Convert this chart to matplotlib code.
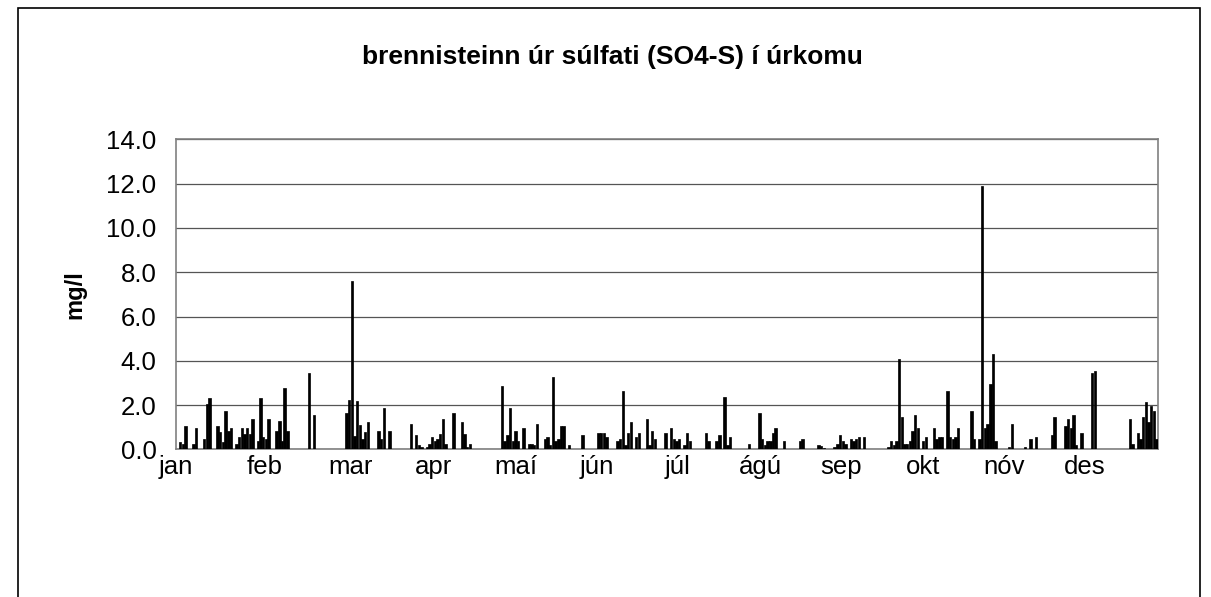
import matplotlib
matplotlib.use("Agg")
import matplotlib.pyplot as plt
from matplotlib.patches import Rectangle

plt.rcParams['font.family'] = ['Liberation Sans', 'DejaVu Sans']

# sample days (day of year, 0 = 1 Jan) and sulphate-sulphur in precipitation (mg/l)
days = [0, 1, 2, 5, 6, 9, 10, 11, 14, 15, 16, 17, 18, 19, 21, 22, 23, 24, 25, 26, 27,
        29, 30, 31, 32, 33, 36, 37, 38, 39, 40, 48, 50,
        62, 63, 64, 65, 66, 67, 68, 69, 70, 74, 75, 76, 78, 86, 88, 89, 90,
        92, 93, 94, 95, 96, 97, 98, 99, 102, 105, 106, 107, 108,
        120, 121, 122, 123, 124, 125, 126, 128, 130, 131, 132, 133, 136, 137, 138, 139,
        140, 141, 142, 143, 145, 150,
        156, 157, 158, 159, 163, 164, 165, 166, 167, 168, 170, 171, 174, 175, 176, 177,
        181, 183, 184, 185, 186, 188, 189, 190, 196, 197, 200, 201, 203, 204, 205,
        212, 216, 217, 218, 219, 220, 221, 222, 225, 231, 232, 238, 239, 240,
        244, 245, 246, 247, 248, 250, 251, 252, 253, 255,
        264, 265, 266, 267, 268, 269, 270, 271, 272, 273, 274, 275, 277, 278,
        281, 282, 283, 284, 286, 287, 288, 289, 290, 295, 296, 298, 299, 300, 301, 302,
        303, 304, 309, 310,
        315, 317, 319, 325, 326, 330, 331, 332, 333, 334, 336, 340, 341,
        354, 355, 357, 358, 359, 360, 361, 362, 363, 364]
so4_s = [0.35, 0.25, 1.05, 0.25, 0.95, 0.45, 2.05, 2.3, 1.05, 0.78, 0.33, 1.75, 0.83, 0.95,
         0.25, 0.57, 0.95, 0.68, 0.95, 0.68, 1.35,
         0.37, 2.3, 0.55, 0.45, 1.35, 0.85, 1.26, 0.4, 2.75, 0.85, 3.45, 1.55,
         1.65, 2.25, 7.6, 0.6, 2.2, 1.1, 0.45, 0.78, 1.25, 0.85, 0.45, 1.85, 0.85, 1.15,
         0.65, 0.22, 0.1,
         0.12, 0.25, 0.55, 0.37, 0.45, 0.68, 1.35, 0.25, 1.65, 1.25, 0.68, 0.12, 0.25,
         2.85, 0.37, 0.65, 1.85, 0.37, 0.85, 0.37, 0.95, 0.25, 0.25, 0.22, 1.15, 0.45,
         0.55, 0.18, 3.25,
         0.37, 0.45, 1.05, 1.05, 0.18, 0.65,
         0.75, 0.75, 0.75, 0.55, 0.37, 0.45, 2.65, 0.18, 0.75, 1.25, 0.55, 0.75, 1.35,
         0.18, 0.85, 0.45,
         0.75, 0.95, 0.45, 0.37, 0.45, 0.18, 0.75, 0.37, 0.75, 0.37, 0.37, 0.65, 2.35,
         0.18, 0.55,
         0.25, 1.65, 0.45, 0.18, 0.37, 0.37, 0.75, 0.95, 0.37, 0.37, 0.45, 0.18, 0.15, 0.08,
         0.12, 0.25, 0.65, 0.37, 0.25, 0.45, 0.37, 0.45, 0.55, 0.55,
         0.12, 0.37, 0.18, 0.37, 4.1, 1.45, 0.25, 0.25, 0.37, 0.85, 1.55, 0.95, 0.37, 0.55,
         0.95, 0.45, 0.55, 0.55, 2.65, 0.55, 0.45, 0.55, 0.95, 1.75, 0.45, 0.45, 11.9,
         0.95, 1.15, 2.95,
         4.3, 0.37, 0.12, 1.15,
         0.12, 0.45, 0.55, 0.65, 1.45, 1.05, 1.35, 0.95, 1.55, 0.18, 0.75, 3.45, 3.55,
         1.35, 0.25, 0.75, 0.45, 1.45, 2.15, 1.25, 1.95, 1.75, 0.45]

months = ['jan', 'feb', 'mar', 'apr', 'maí', 'jún', 'júl', 'ágú', 'sep', 'okt', 'nóv', 'des']
month_pos = [-1.5, 31.5, 63.5, 94.5, 125, 155.5, 185.5, 216.5, 246.5, 277, 307, 337]
yticks = [0, 2, 4, 6, 8, 10, 12, 14]

fig = plt.figure(figsize=(12.11, 5.97), dpi=100)
ax = fig.add_axes([176 / 1211, 1 - 449.4 / 597, (1158 - 176) / 1211, (449.4 - 139.3) / 597])

# outer chart border
fig.patches.append(Rectangle((18 / 1211, -0.05), (1200 - 18) / 1211, 1.05 - 8 / 597,
                             transform=fig.transFigure, fill=False, edgecolor='black', lw=1.2))

ax.bar(days, so4_s, width=0.9, color='black', edgecolor='black', linewidth=0.5,
       align='center', zorder=3)

ax.set_xlim(-0.5, 364.5)
ax.set_ylim(0, 14)
ax.set_yticks(yticks)
ax.set_yticklabels([f'{v:.1f}' for v in yticks])
ax.set_xticks(month_pos)
ax.set_xticklabels(months)
ax.tick_params(axis='both', length=0, labelsize=18.5)
ax.tick_params(axis='y', pad=14)
ax.tick_params(axis='x', pad=4)
ax.grid(axis='y', color='#555555', lw=0.9, zorder=0)
for s in ax.spines.values():
    s.set_color('#808080')
    s.set_linewidth(1.2)

ax.set_ylabel('mg/l', fontsize=17, fontweight='bold', labelpad=14)
fig.text(612 / 1211, 1 - 57 / 597, 'brennisteinn úr súlfati (SO4-S) í úrkomu',
         ha='center', va='center', fontsize=19, fontweight='bold')

fig.savefig('out.png', dpi=100)
